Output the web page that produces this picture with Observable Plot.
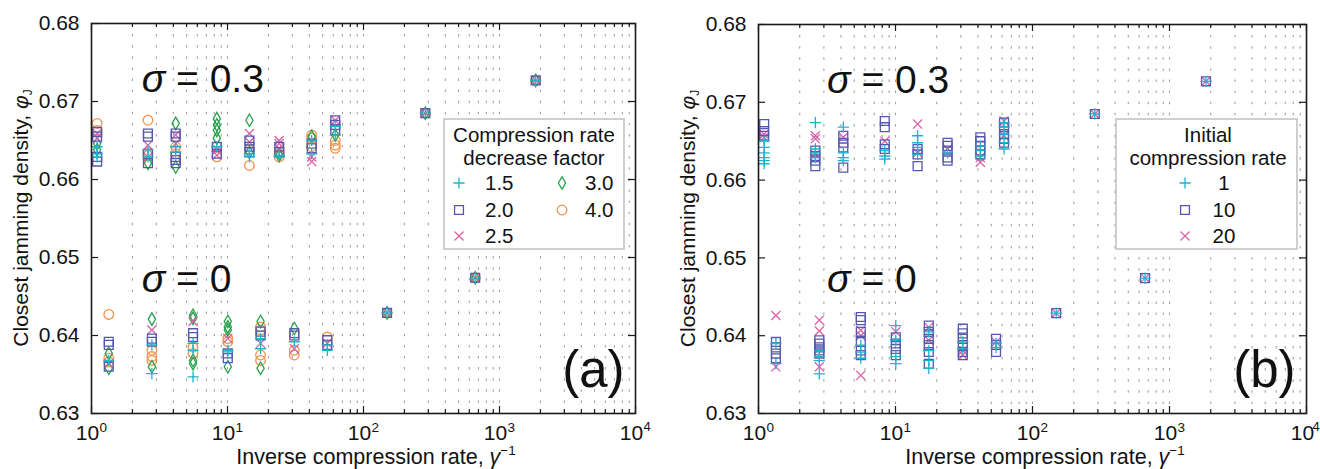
<!DOCTYPE html>
<html><head><meta charset="utf-8">
<script src="https://cdn.jsdelivr.net/npm/d3@7"></script>
<script src="https://cdn.jsdelivr.net/npm/@observablehq/plot@0.6"></script>
<style>
body{margin:0;background:#fff;}
#wrap{display:flex;width:1320px;height:469px;overflow:hidden;}
</style></head><body><div id="wrap"></div>
<script>
// ---------- axes / ticks ----------
const xMajor = [1, 10, 100, 1000, 10000];
const xExpLabels = ["0", "1", "2", "3", "4"];
const xMinor = [2,3,4,5,6,7,8,9,20,30,40,50,60,70,80,90,200,300,400,500,600,700,800,900,2000,3000,4000,5000,6000,7000,8000,9000];
const xGrid = [2,3,4,5,6,7,8,9,10,20,30,40,50,60,70,80,90,100,200,300,400,500,600,700,800,900,1000,2000,3000,4000,5000,6000,7000,8000,9000];
const yTicks = [0.63, 0.64, 0.65, 0.66, 0.67, 0.68];
const yTickLabels = ["0.63", "0.64", "0.65", "0.66", "0.67", "0.68"];

// ---------- panel (a): compression rate decrease factor ----------
const aLabels = ["1.5", "2.0", "2.5", "3.0", "4.0"];
const a15 = [[1.1,[0.6642,0.6633,0.6629]],[2.6,[0.6638,0.6629]],[4.16,[0.6642,0.6635]],[8.35,[0.6642]],[14.5,[0.6633,0.6629]],[24,[0.6631,0.6629]],[41.6,[0.6650,0.6633]],[62,[0.6668,0.6657]],[285,[0.6685]],[1846,[0.6727]],
  [1.34,[0.6368]],[2.78,[0.6388,0.6351]],[5.58,[0.6390,0.6381,0.6347]],[10.05,[0.6381,0.6379]],[17.5,[0.6396,0.6383]],[31,[0.6392]],[54.2,[0.6388,0.6381]],[149,[0.6429]],[663,[0.6474]]];
const a20 = [[1.1,[0.6661,0.6655,0.6629,0.6623]],[2.6,[0.6659,0.6655,0.6633,0.6621]],[4.16,[0.6659,0.6655,0.6629,0.6625,0.6621]],[8.35,[0.6642,0.6633]],[14.5,[0.6650,0.6642,0.6635]],[24,[0.6642,0.6635]],[41.6,[0.6646,0.6640]],[62,[0.6676,0.6670,0.6663]],[285,[0.6685]],[1846,[0.6727]],
  [1.34,[0.6392,0.6388,0.6360]],[2.78,[0.6396,0.6392]],[5.58,[0.6403,0.6398]],[10.05,[0.6377,0.6371]],[17.5,[0.6405,0.6400]],[31,[0.6403,0.6400]],[54.2,[0.6394,0.6388]],[149,[0.6429]],[663,[0.6474]]];
const a25 = [[1.1,[0.6659,0.6653]],[2.6,[0.6644,0.6629]],[4.16,[0.6657,0.6646]],[8.35,[0.6638,0.6631]],[14.5,[0.6659,0.6648]],[24,[0.6650,0.6646,0.6640]],[41.6,[0.6629,0.6623]],[62,[0.6676]],[285,[0.6685]],[1846,[0.6727]],
  [1.34,[0.6364]],[2.78,[0.6407]],[5.58,[0.6418]],[10.05,[0.6396]],[17.5,[0.6390]],[31,[0.6383]],[54.2,[0.6390]],[149,[0.6429]],[663,[0.6474]]];
const a30 = [[1.1,[0.6646,0.6638]],[2.6,[0.6621]],[4.16,[0.6672,0.6616]],[8.35,[0.6678,0.6670,0.6663,0.6653]],[14.5,[0.6676,0.6635]],[24,[0.6631]],[41.6,[0.6655]],[62,[0.6657]],[285,[0.6685]],[1846,[0.6727]],
  [1.34,[0.6377,0.6358]],[2.78,[0.6421,0.6360]],[5.58,[0.6426,0.6422,0.6368,0.6364]],[10.05,[0.6418,0.6411,0.6407,0.6360]],[17.5,[0.6418,0.6358]],[31,[0.6409]],[149,[0.6429]],[663,[0.6474]]];
const a40 = [[1.1,[0.6672,0.6663]],[2.6,[0.6676,0.6635,0.6631]],[4.16,[0.6642,0.6633]],[8.35,[0.6642,0.6629]],[14.5,[0.6638,0.6618]],[24,[0.6633,0.6629]],[41.6,[0.6657,0.6653,0.6642]],[62,[0.6650,0.6644,0.6640]],[285,[0.6685]],[1846,[0.6727]],
  [1.34,[0.6427,0.6371,0.6366]],[2.78,[0.6381,0.6373,0.6368]],[5.58,[0.6385,0.6377]],[10.05,[0.6396,0.6392]],[17.5,[0.6411,0.6407,0.6375,0.6368]],[31,[0.6381,0.6375]],[54.2,[0.6398]],[149,[0.6429]],[663,[0.6474]]];

// ---------- panel (b): initial compression rate ----------
const bLabels = ["1", "10", "20"];
const b1 = [[1.1,[0.6650,0.6642,0.6635,0.6629,0.6625,0.6621]],[2.6,[0.6674,0.6640,0.6635,0.6629]],[4.16,[0.6668,0.6635,0.6629,0.6625]],[8.35,[0.6638,0.6631,0.6627]],[14.5,[0.6657,0.6648,0.6642,0.6633]],[24,[0.6635]],[41.6,[0.6644,0.6638,0.6631]],[62,[0.6674,0.6668,0.6659,0.6648,0.6640]],[285,[0.6685]],[1846,[0.6727]],
  [1.34,[0.6390,0.6364]],[2.78,[0.6381,0.6373,0.6368,0.6351]],[5.58,[0.6388,0.6379,0.6371]],[10.05,[0.6413,0.6394,0.6373,0.6364]],[17.5,[0.6405,0.6381,0.6368,0.6358]],[31,[0.6392,0.6383]],[54.2,[0.6390,0.6385]],[149,[0.6429]],[663,[0.6474]]];
const b10 = [[1.1,[0.6672,0.6663,0.6657]],[2.6,[0.6638,0.6631,0.6625,0.6618]],[4.16,[0.6657,0.6648,0.6642,0.6616]],[8.35,[0.6676,0.6668,0.6646,0.6640]],[14.5,[0.6640,0.6633,0.6618]],[24,[0.6648,0.6644,0.6638,0.6629,0.6625]],[41.6,[0.6655,0.6650,0.6644,0.6638,0.6633]],[62,[0.6674,0.6668,0.6659,0.6653,0.6648]],[285,[0.6685]],[1846,[0.6727]],
  [1.34,[0.6392,0.6385,0.6377,0.6371]],[2.78,[0.6394,0.6390,0.6385,0.6381,0.6377]],[5.58,[0.6424,0.6420,0.6405,0.6392,0.6381,0.6375]],[10.05,[0.6398,0.6390,0.6383,0.6375]],[17.5,[0.6413,0.6405,0.6396,0.6388,0.6379,0.6364]],[31,[0.6409,0.6403,0.6396,0.6388,0.6379,0.6375]],[54.2,[0.6396,0.6388,0.6379]],[149,[0.6429]],[663,[0.6474]]];
const b20 = [[1.1,[0.6659,0.6655]],[2.6,[0.6657,0.6653,0.6633]],[4.16,[0.6655]],[8.35,[0.6650]],[14.5,[0.6672,0.6635]],[24,[0.6640]],[41.6,[0.6629,0.6623]],[62,[0.6676,0.6657]],[285,[0.6685]],[1846,[0.6727]],
  [1.34,[0.6426,0.6360]],[2.78,[0.6420,0.6406,0.6360]],[5.58,[0.6407,0.6400,0.6349]],[10.05,[0.6405]],[17.5,[0.6411,0.6394]],[31,[0.6381,0.6375]],[54.2,[0.6392]],[149,[0.6429]],[663,[0.6474]]];

// ---------- annotation texts ----------
const sigmaA = [{v: "0.3", x: 2.36, y: 0.6711}, {v: "0", x: 2.36, y: 0.64555}];
const sigmaB = [{v: "0.3", x: 3.19, y: 0.6711}, {v: "0", x: 3.19, y: 0.64555}];

// ---------- styles ----------
const COL = {plus: "#1db4cb", square: "#5558ac", times: "#d862a6", diamond: "#26a24a", circle: "#f3944e"};
const RAD = {plus: 3.7, square: 5.0, times: 4.2, diamond: 3.8, circle: 4.8};
const FONT = "'Liberation Sans', Arial, Helvetica, sans-serif";
const W = 660, H = 469;

const flat = cols => cols.flatMap(([x, ys]) => ys.map(y => ({x, y})));

function panel(cfg) {
  const {mL, mR, mT, mB, series, letter, sigma, legend, lastExpDx} = cfg;
  const innerW = W - mL - mR, innerH = H - mT - mB;
  const tk = {stroke: "#1a1a1a", strokeWidth: 1.2};
  const plot = Plot.plot({
    width: W, height: H,
    marginLeft: mL, marginRight: mR, marginTop: mT, marginBottom: mB,
    style: {fontFamily: FONT, background: "white", overflow: "visible"},
    x: {type: "log", domain: [1, 10000], axis: null},
    y: {domain: [0.63, 0.68], axis: null},
    marks: [
      Plot.ruleX(xGrid, {x: d => d, stroke: "#a0a0a0", strokeWidth: 1.1, strokeDasharray: "2.5,8.6"}),
      ...series.map(s => Plot.dot(flat(s.data), {x: "x", y: "y", symbol: s.symbol, r: RAD[s.symbol], stroke: COL[s.symbol], strokeWidth: 1.3, fill: "none"})),
      Plot.tickX(xMajor, {x: d => d, insetTop: innerH - 7, ...tk}),
      Plot.tickX(xMajor, {x: d => d, insetBottom: innerH - 7, ...tk}),
      Plot.tickX(xMinor, {x: d => d, insetTop: innerH - 4, ...tk}),
      Plot.tickX(xMinor, {x: d => d, insetBottom: innerH - 4, ...tk}),
      Plot.tickY(yTicks, {y: d => d, insetRight: innerW - 7, ...tk}),
      Plot.tickY(yTicks, {y: d => d, insetLeft: innerW - 7, ...tk}),
      Plot.frame({stroke: "#1a1a1a", strokeWidth: 1.6}),
      Plot.text(yTicks, {y: d => d, frameAnchor: "left", text: (d, i) => yTickLabels[i], textAnchor: "end", dx: -12, fontSize: 21, fill: "#111"}),
      Plot.text(xMajor, {x: d => d, frameAnchor: "bottom", text: () => "10", dx: -4, dy: 12, lineAnchor: "top", fontSize: 21, fill: "#111"}),
      Plot.text(xMajor.slice(0, 4), {x: d => d, frameAnchor: "bottom", text: (d, i) => xExpLabels[i], dx: 8, dy: 8.5, lineAnchor: "top", textAnchor: "start", fontSize: 13.5, fill: "#111"}),
      Plot.text(xMajor.slice(4), {x: d => d, frameAnchor: "bottom", text: () => xExpLabels[4], dx: lastExpDx, dy: 8.5, lineAnchor: "top", textAnchor: "start", fontSize: 13, fill: "#111"}),
      Plot.text([letter], {frameAnchor: "bottom-right", text: d => d, dx: -11, dy: -27, fontSize: 51, textAnchor: "end", lineAnchor: "bottom", fill: "#111"})
    ]
  });
  const svg = d3.select(plot);
  const sx = plot.scale("x"), sy = plot.scale("y");
  // sigma annotations
  sigma.forEach(s => {
    const t = svg.append("text").attr("x", sx.apply(s.x)).attr("y", sy.apply(s.y))
      .attr("text-anchor", "start").attr("font-size", 39).attr("font-family", FONT).attr("fill", "#111");
    t.append("tspan").attr("font-style", "italic").text("σ");
    t.append("tspan").text(" = " + s.v);
  });
  // axis titles
  const xt = svg.append("text").attr("x", (mL + W - mR) / 2 + 13).attr("y", 464)
    .attr("text-anchor", "middle").attr("font-size", 21.5).attr("font-family", FONT).attr("fill", "#111");
  xt.append("tspan").text("Inverse compression rate, ");
  xt.append("tspan").attr("font-style", "italic").text("γ");
  xt.append("tspan").attr("font-size", 13.5).attr("dy", -9).text("−1");
  const yt = svg.append("text").attr("transform", `translate(${mL - 63},${(mT + H - mB) / 2}) rotate(-90)`)
    .attr("text-anchor", "middle").attr("font-size", 21).attr("font-family", FONT).attr("fill", "#111");
  yt.append("tspan").text("Closest jamming density, ");
  yt.append("tspan").attr("font-style", "italic").text("φ");
  yt.append("tspan").attr("font-size", 12).attr("dy", 4).text("J");
  // legend
  const L = legend;
  const g = svg.append("g").attr("font-family", FONT).attr("font-size", 20.5).attr("fill", "#111");
  g.append("rect").attr("x", L.x).attr("y", L.y).attr("width", L.w).attr("height", L.h)
    .attr("fill", "white").attr("stroke", "#c4c4c4").attr("stroke-width", 1.6);
  L.title.forEach((line, i) => g.append("text").attr("x", L.tx).attr("y", L.y + 23 + i * 23)
    .attr("text-anchor", "middle").text(line));
  const symMap = {plus: d3.symbolPlus, square: d3.symbolSquare, times: d3.symbolTimes, diamond: d3.symbolDiamond, circle: d3.symbolCircle};
  L.items.forEach(it => {
    const r = RAD[it.symbol];
    g.append("path").attr("d", d3.symbol(symMap[it.symbol], Math.PI * r * r)())
      .attr("transform", `translate(${it.sx},${it.y - 7})`)
      .attr("fill", "none").attr("stroke", COL[it.symbol]).attr("stroke-width", 1.3);
    g.append("text").attr("x", it.lx).attr("y", it.y).attr("text-anchor", it.anchor || "start").text(it.label);
  });
  return plot;
}

const wrap = document.getElementById("wrap");
wrap.appendChild(panel({
  mL: 91, mR: 25, mT: 23, mB: 56, letter: "(a)", sigma: sigmaA, lastExpDx: 8,
  series: [
    {symbol: "circle", data: a40}, {symbol: "diamond", data: a30}, {symbol: "times", data: a25},
    {symbol: "square", data: a20}, {symbol: "plus", data: a15}
  ],
  legend: {x: 444, y: 119, w: 180, h: 130, tx: 534, title: ["Compression rate", "decrease factor"],
    items: [
      {symbol: "plus", label: aLabels[0], sx: 459, lx: 485, y: 190},
      {symbol: "square", label: aLabels[1], sx: 459, lx: 485, y: 217},
      {symbol: "times", label: aLabels[2], sx: 459, lx: 485, y: 243},
      {symbol: "diamond", label: aLabels[3], sx: 562, lx: 585, y: 190},
      {symbol: "circle", label: aLabels[4], sx: 562, lx: 585, y: 217}
    ]}
}));
wrap.appendChild(panel({
  mL: 98, mR: 14, mT: 24, mB: 56, letter: "(b)", sigma: sigmaB, lastExpDx: 6,
  series: [
    {symbol: "times", data: b20}, {symbol: "square", data: b10}, {symbol: "plus", data: b1}
  ],
  legend: {x: 456, y: 119, w: 181, h: 130, tx: 548, title: ["Initial", "compression rate"],
    items: [
      {symbol: "plus", label: bLabels[0], sx: 525, lx: 564, y: 190, anchor: "middle"},
      {symbol: "square", label: bLabels[1], sx: 525, lx: 564, y: 217, anchor: "middle"},
      {symbol: "times", label: bLabels[2], sx: 525, lx: 564, y: 243, anchor: "middle"}
    ]}
}));
</script>
</body></html>
